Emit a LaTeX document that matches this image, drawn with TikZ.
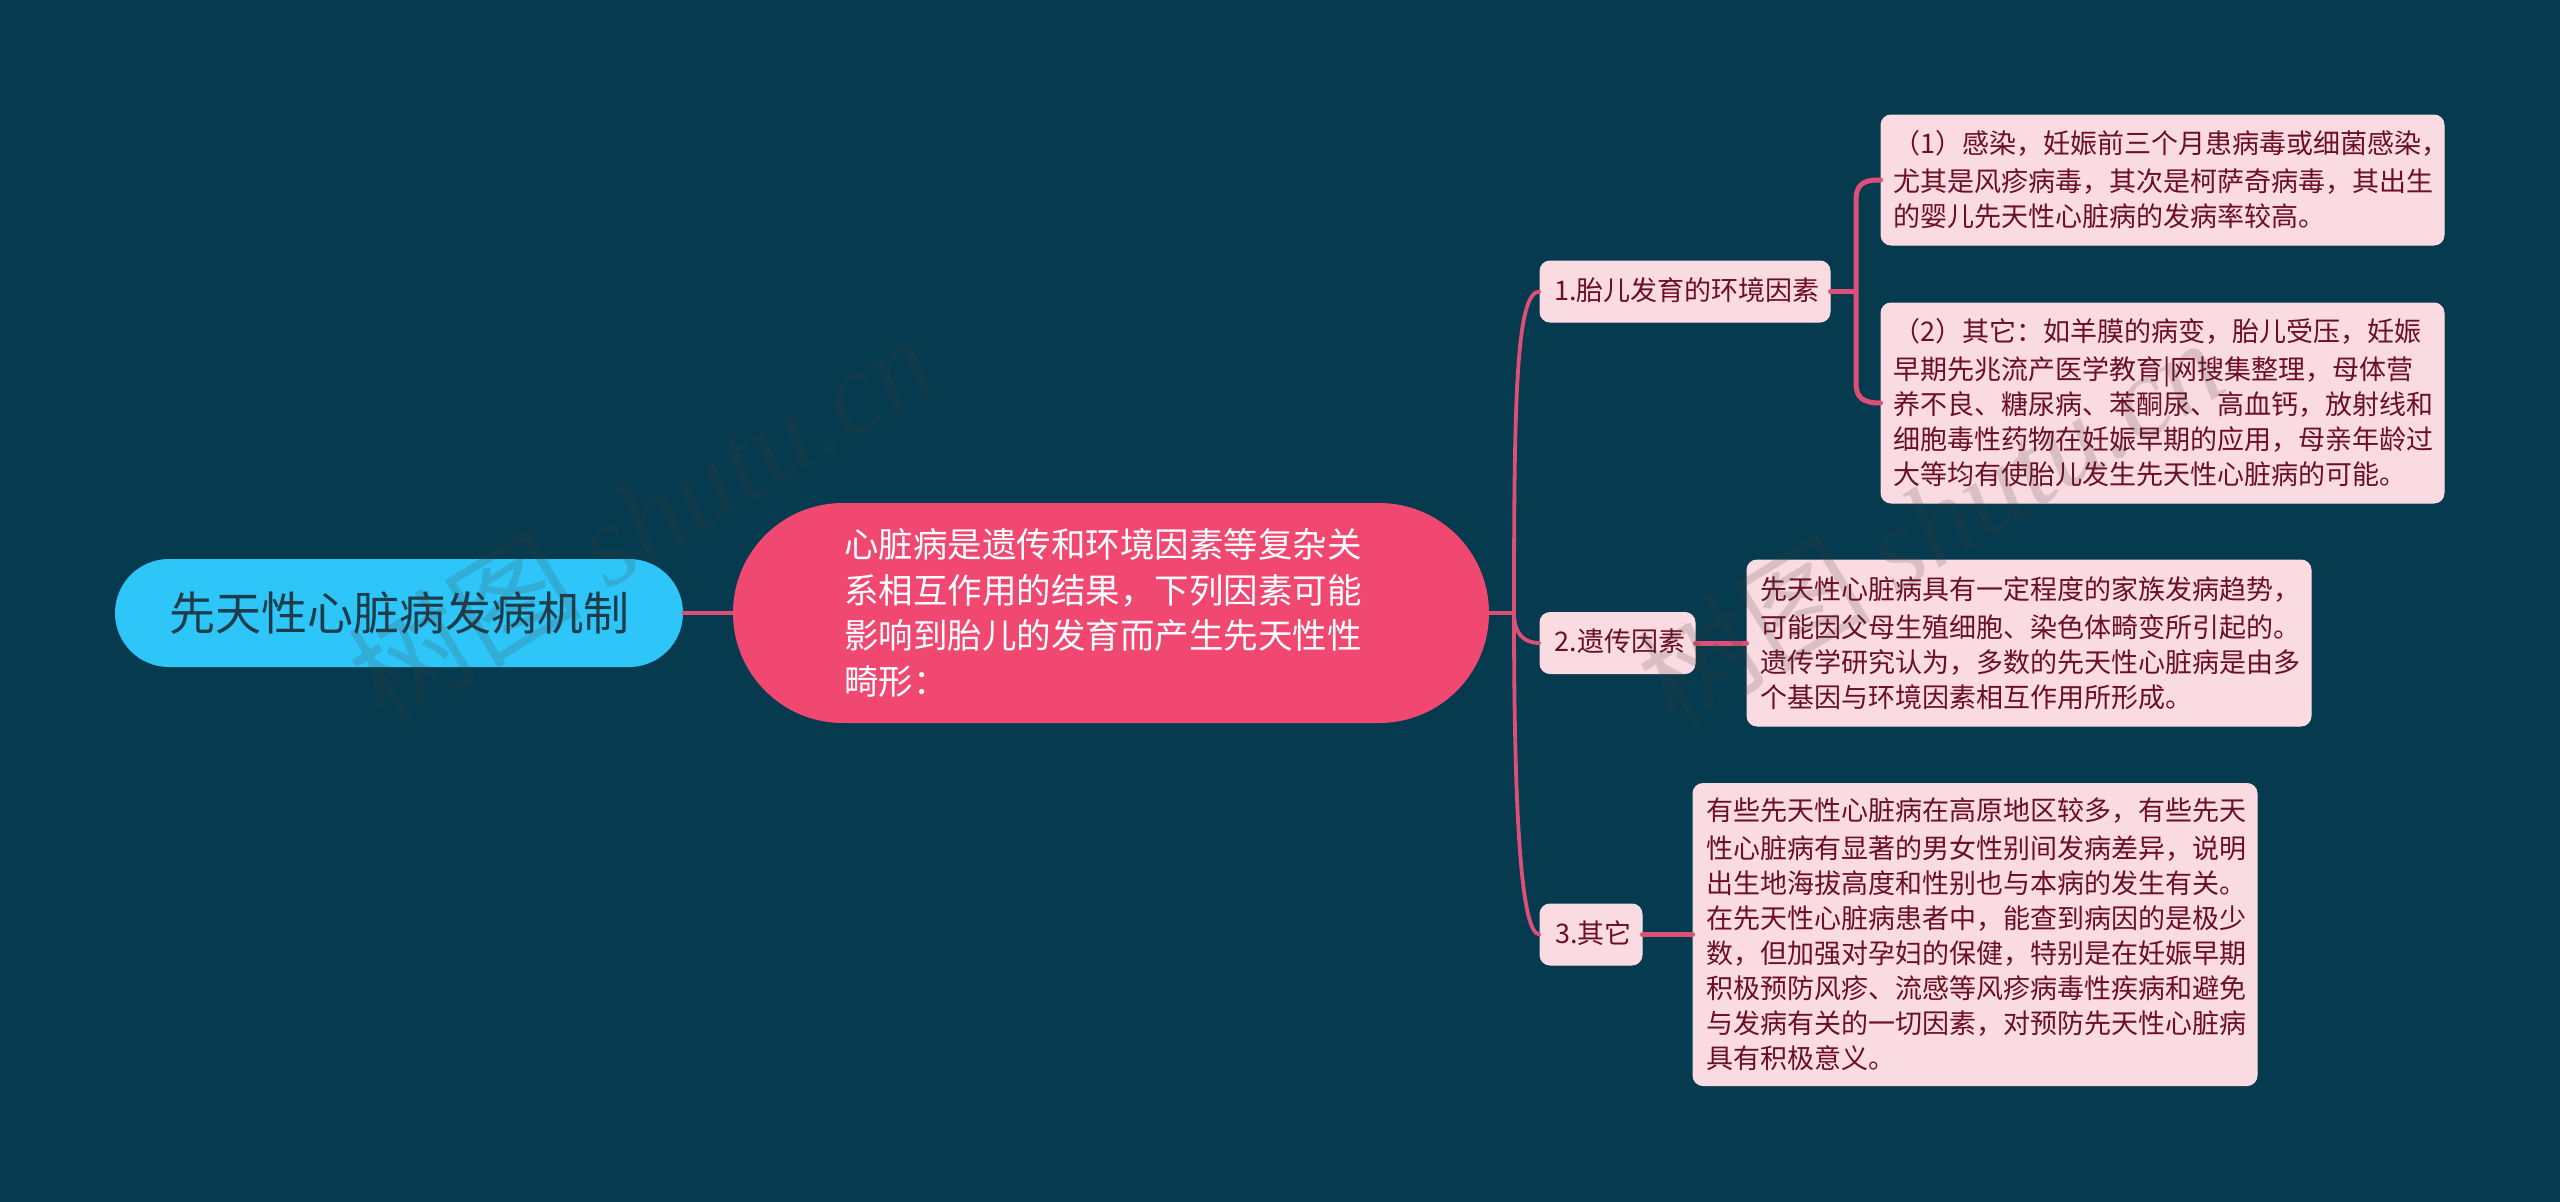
\documentclass[tikz,border=0pt]{standalone}
\usepackage{fontspec}
\setmainfont{Noto Sans CJK SC}
\newfontfamily\wmlatin[Ligatures=TeX]{Liberation Serif}
\definecolor{bgc}{HTML}{063A4E}
\definecolor{rootc}{HTML}{2EC5F8}
\definecolor{mainc}{HTML}{F14872}
\definecolor{leafc}{HTML}{FBDBE2}
\definecolor{inkc}{HTML}{6B0F24}
\definecolor{rootink}{HTML}{1D3C4A}
\definecolor{linec}{HTML}{DE4F78}
\definecolor{wmc}{HTML}{404040}
\tikzset{
  x=1pt,y=-1pt,
  box/.style={fill=leafc,draw=leafc,line width=1pt,rounded corners=10pt,inner sep=0pt,anchor=center,text=inkc,align=left,font=\fontsize{27}{35}\selectfont,execute at begin node=\vspace*{3pt}},
  rootbox/.style={fill=rootc,rounded corners=53.9pt,inner sep=0pt,minimum width=568pt,minimum height=108pt,text=rootink,align=center,font=\fontsize{46}{55}\selectfont},
  mainbox/.style={fill=mainc,rounded corners=109.9pt,inner sep=0pt,minimum width=756pt,minimum height=220pt,text=white,align=left,text width=534pt,font=\fontsize{34.5}{45.6}\selectfont},
  link/.style={draw=linec,line width=5pt,line cap=round},
  trunk/.style={draw=linec,line width=3.8pt,line cap=round},
  wm/.style={rotate=31.5,text=wmc,opacity=0.18,inner sep=0pt,font=\fontsize{117}{117}\selectfont}
}
\begin{document}
\begin{tikzpicture}
\useasboundingbox (0,0) rectangle (2560,1202);
\fill[bgc] (0,0) rectangle (2560,1202);

\coordinate (tr) at (1514,613);
\node[rootbox] (root) at (399,613) {先天性心脏病发病机制};
\node[mainbox] (main) at (1111,613) {心脏病是遗传和环境因素等复杂关\\系相互作用的结果，下列因素可能\\影响到胎儿的发育而产生先天性性\\畸形：};

\node[box,minimum width=290pt,minimum height=61pt,text width=262pt] (b1) at (1685,291.5) {1.胎儿发育的环境因素};
\node[box,minimum width=155pt,minimum height=61pt,text width=126pt] (b2) at (1617.5,643) {2.遗传因素};
\node[box,minimum width=102pt,minimum height=61pt,text width=72pt] (b3) at (1591,934.5) {3.其它};

\node[box,minimum width=563pt,minimum height=130pt,text width=539pt] (l1) at (2162.5,180) {（1）感染，妊娠前三个月患病毒或细菌感染，\\尤其是风疹病毒，其次是柯萨奇病毒，其出生\\的婴儿先天性心脏病的发病率较高。};
\node[box,minimum width=563pt,minimum height=200pt,text width=539pt] (l2) at (2162.5,403) {（2）其它：如羊膜的病变，胎儿受压，妊娠\\早期先兆流产医学教育|网搜集整理，母体营\\养不良、糖尿病、苯酮尿、高血钙，放射线和\\细胞毒性药物在妊娠早期的应用，母亲年龄过\\大等均有使胎儿发生先天性心脏病的可能。};
\node[box,minimum width=564pt,minimum height=166pt,text width=538pt] (l3) at (2029,643) {先天性心脏病具有一定程度的家族发病趋势，\\可能因父母生殖细胞、染色体畸变所引起的。\\遗传学研究认为，多数的先天性心脏病是由多\\个基因与环境因素相互作用所形成。};
\node[box,minimum width=564pt,minimum height=302pt,text width=538pt] (l4) at (1975,934.5) {有些先天性心脏病在高原地区较多，有些先天\\性心脏病有显著的男女性别间发病差异，说明\\出生地海拔高度和性别也与本病的发生有关。\\在先天性心脏病患者中，能查到病因的是极少\\数，但加强对孕妇的保健，特别是在妊娠早期\\积极预防风疹、流感等风疹病毒性疾病和避免\\与发病有关的一切因素，对预防先天性心脏病\\具有积极意义。};

\path[trunk] (root.east) -- (main.west);
\path[trunk] (main.east) -- (tr);
\path[trunk] (tr) .. controls (1514,400) and (1516,291.5) .. (b1.west);
\path[trunk] (tr) .. controls (1514,634) and (1524,643) .. (b2.west);
\path[trunk] (tr) .. controls (1514,800) and (1520,934.5) .. (b3.west);

\coordinate (j1) at (1856,291.5);
\path[link] (b1.east) -- (j1);
\path[link] (l1.west) -- (1878,180) .. controls (1862,180) and (1856,186) .. (1856,200) -- (1856,383) .. controls (1856,397) and (1862,403) .. (l2.west);
\path[link] (b2.east) -- (l3.west);
\path[link] (b3.east) -- (l4.west);

\node[wm] (w1) at (641,518) {树图 {\wmlatin\itshape shutu.cn}};
\node[wm] (w2) at (1930,522) {树图 {\wmlatin\itshape shutu.cn}};
\end{tikzpicture}
\end{document}
